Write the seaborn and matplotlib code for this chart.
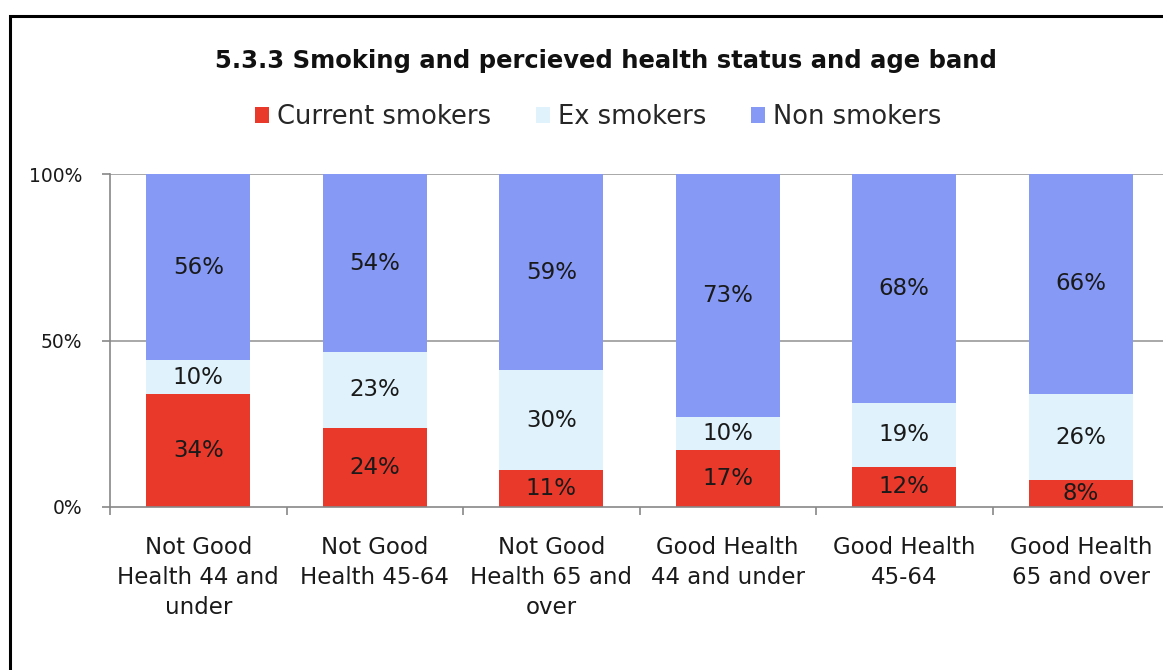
import matplotlib
matplotlib.use("Agg")
import matplotlib.pyplot as plt
import seaborn as sns
import pandas as pd
import numpy as np
from matplotlib.patches import Rectangle, Patch

categories = ["Not Good\nHealth 44 and\nunder", "Not Good\nHealth 45-64", "Not Good\nHealth 65 and\nover",
              "Good Health\n44 and under", "Good Health\n45-64", "Good Health\n65 and over"]
current = [34, 24, 11, 17, 12, 8]
ex = [10, 23, 30, 10, 19, 26]
non = [56, 54, 59, 73, 68, 66]
series_names = ["Current smokers", "Ex smokers", "Non smokers"]
colors = ["#E8392B", "#E0F3FC", "#8599F5"]

sns.set_theme(style="white")
plt.rcParams['font.family'] = ['DejaVu Sans']

W, H = 1163, 670
fig = plt.figure(figsize=(W/100, H/100), dpi=100)
ax = fig.add_axes([110/W, (H-507)/H, 1059/W, 333/H])

vals = np.array([current, ex, non], dtype=float)
tot = vals.sum(axis=0)
frac = vals / tot * 100
df = pd.DataFrame({"cat": categories})
bottom = np.zeros(len(categories))
for i, name in enumerate(series_names):
    df["v"] = frac[i]
    sns.barplot(data=df, x="cat", y="v", order=categories, color=colors[i],
                bottom=bottom, width=0.59, ax=ax, saturation=1, linewidth=0)
    for j in range(len(categories)):
        ax.text(j, bottom[j] + frac[i][j] / 2, f"{int(vals[i][j])}%", ha="center", va="center",
                fontsize=16.5, color="#1a1a1a")
    bottom = bottom + frac[i]

ax.set_xlim(-0.5, 5.5)
ax.set_ylim(0, 100)
ax.set_yticks([0, 50, 100])
ax.set_yticklabels(["0%", "50%", "100%"], fontsize=13.5, color="#1a1a1a")
ax.set_xlabel("")
ax.set_ylabel("")
ax.set_xticks(range(len(categories)))
ax.set_xticklabels(categories, fontsize=16.5, color="#1a1a1a", linespacing=1.38)
ax.tick_params(axis="x", which="major", length=0, pad=21, bottom=False)
ax.set_xticks(np.arange(-0.5, 6, 1.0), minor=True)
ax.tick_params(axis="x", which="minor", bottom=True, length=5.8, color="#888888", width=1.2, direction="out")
ax.tick_params(axis="y", left=True, length=5.8, color="#888888", width=1.2, direction="out", pad=14)
ax.grid(False)
for yv in [50, 100]:
    ax.axhline(yv, color="#999999", linewidth=1.2, zorder=0)
for s in ["top", "right"]:
    ax.spines[s].set_visible(False)
for s in ["left", "bottom"]:
    ax.spines[s].set_color("#888888")
    ax.spines[s].set_linewidth(1.2)
ax.set_axisbelow(True)

fig.text(606/W, 1 - 61/H, "5.3.3 Smoking and percieved health status and age band",
         ha="center", va="center", fontsize=17.5, fontweight="bold", color="#111111")

handles = [Patch(facecolor=c, edgecolor="none") for c in colors]
fig.legend(handles, series_names, loc="center", bbox_to_anchor=(598/W, 1 - 117/H), ncol=3,
           frameon=False, fontsize=18.5, handlelength=0.55, handleheight=0.55, handletextpad=0.3,
           columnspacing=1.75)

fig.add_artist(Rectangle((10/W, -0.1), 1.2, 1 - 16/H + 0.1, transform=fig.transFigure,
                         fill=False, edgecolor="black", linewidth=2.2))

fig.savefig("out.png", dpi=100)
